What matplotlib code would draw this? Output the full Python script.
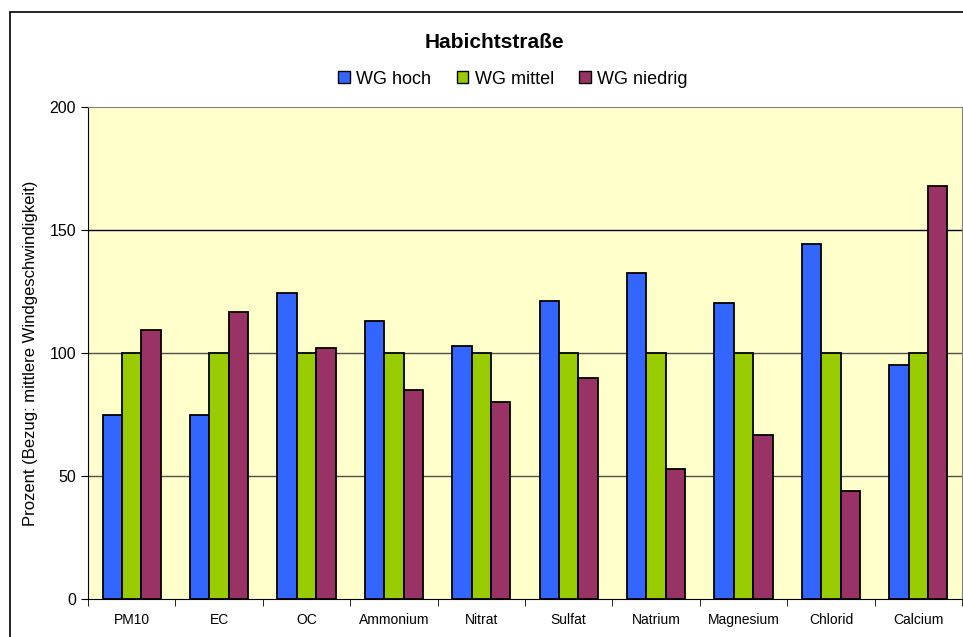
import numpy as np
import matplotlib.pyplot as plt
from matplotlib.patches import Rectangle, Patch

plt.rcParams['font.family'] = ['Liberation Sans', 'DejaVu Sans']

categories = ['PM10', 'EC', 'OC', 'Ammonium', 'Nitrat', 'Sulfat',
              'Natrium', 'Magnesium', 'Chlorid', 'Calcium']
wg_hoch = [75, 75, 124.5, 113, 103, 121, 132.5, 120.5, 144.5, 95]
wg_mittel = [100, 100, 100, 100, 100, 100, 100, 100, 100, 100]
wg_niedrig = [109.5, 116.5, 102, 85, 80, 90, 53, 66.5, 44, 168]
series_names = ['WG hoch', 'WG mittel', 'WG niedrig']
colors = ['#3366FF', '#99CC00', '#993366']

fig = plt.figure(figsize=(9.63, 6.37), dpi=100)
ax = fig.add_axes([88 / 963, 1 - 599 / 637, 874 / 963, 492 / 637])
ax.set_facecolor('#FFFFCC')

# outer chart frame (runs off the right and bottom edge)
fig.patches.append(Rectangle((10 / 963, -0.1), 1.1, 1 - 12 / 637 + 0.1,
                             transform=fig.transFigure, fill=False,
                             edgecolor='black', linewidth=1.2, zorder=0))

x = np.arange(len(categories))
w = 1 / 4.5
for i, vals in enumerate([wg_hoch, wg_mittel, wg_niedrig]):
    ax.bar(x + (i - 1) * w, vals, width=w, color=colors[i],
           edgecolor='black', linewidth=1.3, zorder=3)

ax.set_xlim(-0.5, len(categories) - 0.5)
ax.set_ylim(0, 200)
ax.set_yticks([0, 50, 100, 150, 200])
for v, c in [(50, '#505050'), (100, '#505050'), (150, 'black')]:
    ax.axhline(v, color=c, linewidth=1.0, zorder=1)

ax.set_xticks(x)
ax.set_xticklabels(categories, fontsize=10)
ax.set_xticks(np.arange(len(categories) + 1) - 0.5, minor=True)
ax.tick_params(axis='x', which='major', length=0, pad=10)
ax.tick_params(axis='x', which='minor', length=5, direction='out')
ax.tick_params(axis='y', length=5, direction='out', labelsize=11.5)

for side in ['top', 'right']:
    ax.spines[side].set_color('#808080')
ax.spines['left'].set_color('black')
ax.spines['bottom'].set_color('black')

ax.set_ylabel('Prozent (Bezug: mittlere Windgeschwindigkeit)', fontsize=12,
              labelpad=8)

fig.text(494 / 963, 1 - 42 / 637, 'Habichtstraße', ha='center', va='center',
         fontsize=15, fontweight='bold')

handles = [Patch(facecolor=c, edgecolor='black', linewidth=1.0) for c in colors]
fig.legend(handles, series_names, loc='center', ncol=3, frameon=False,
           bbox_to_anchor=(513 / 963, 1 - 79 / 637), fontsize=13,
           handlelength=0.65, handleheight=0.65, handletextpad=0.35,
           columnspacing=1.4)

fig.savefig('out.png', dpi=100)
